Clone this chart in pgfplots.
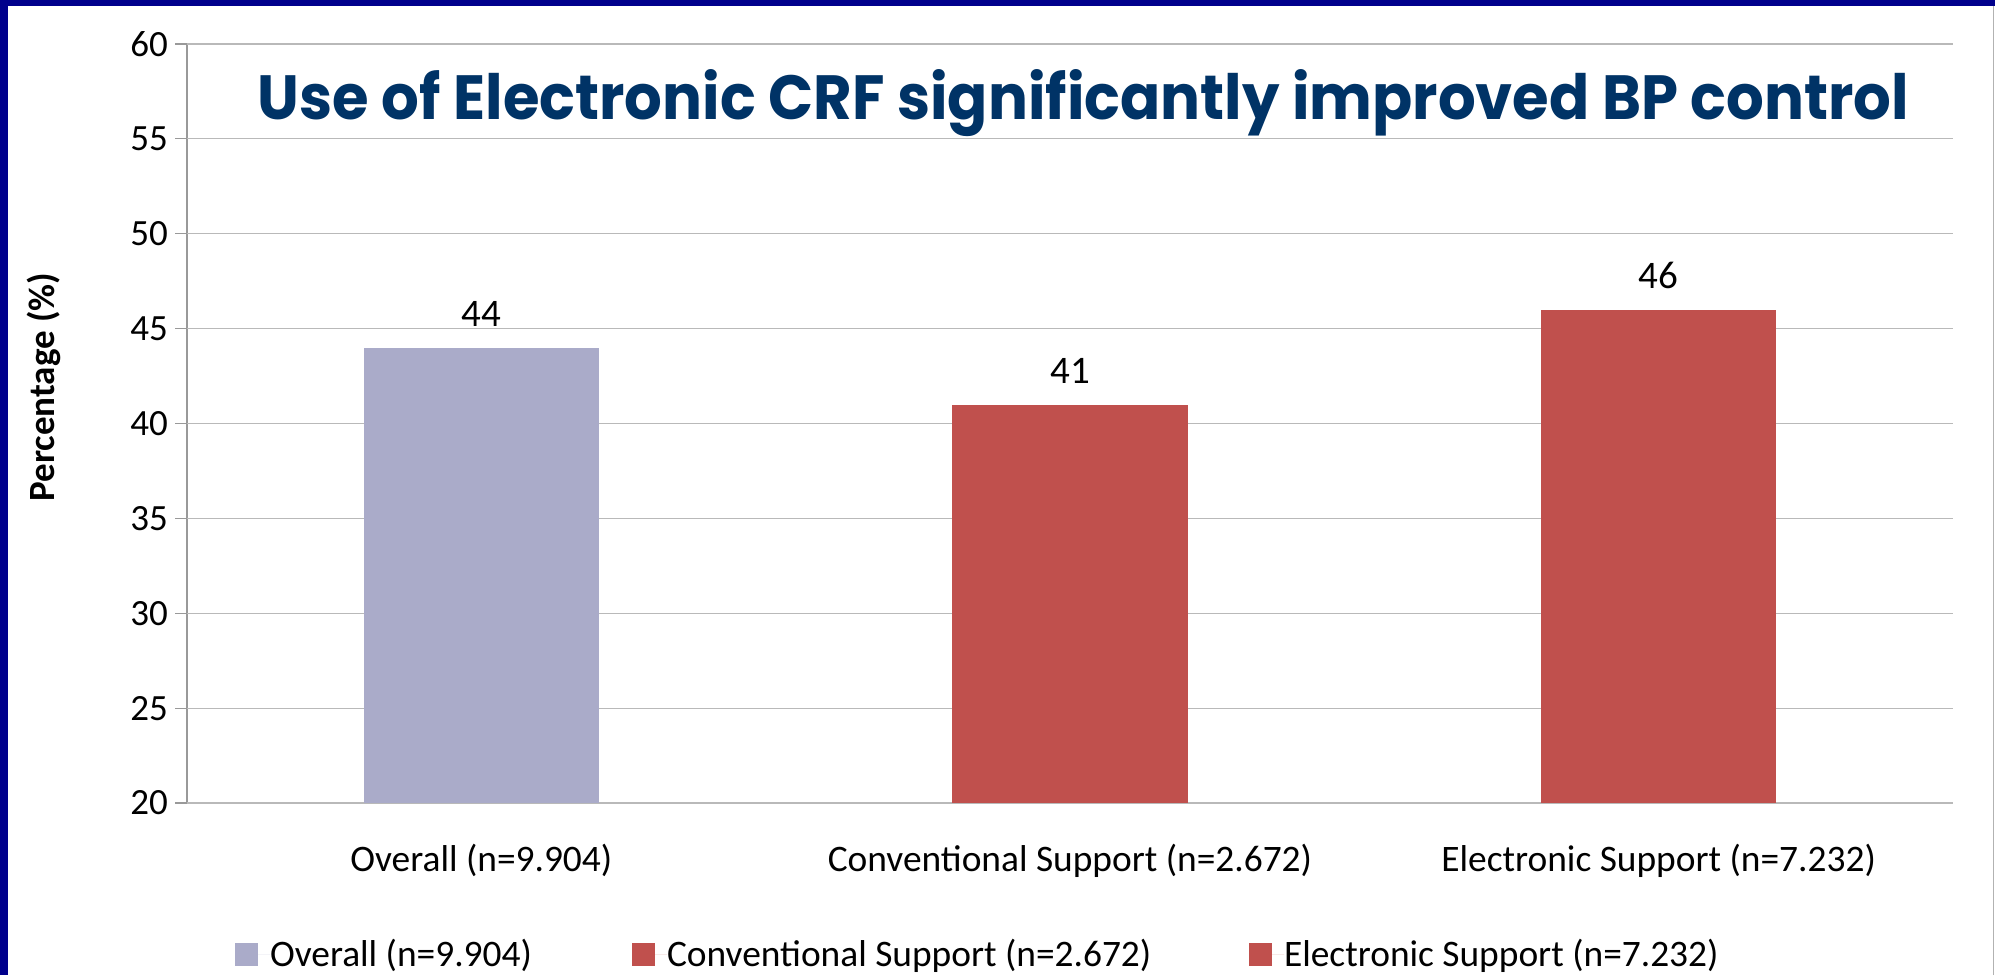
\documentclass[border=0pt]{standalone}
\usepackage{fontspec}
\setmainfont{Carlito}
\newfontfamily\titlefont{Poppins}
\usepackage{graphicx}
\usepackage{pgfplots}
\pgfplotsset{compat=1.18}
\definecolor{navyb}{RGB}{0,0,140}
\definecolor{titleblue}{RGB}{0,51,102}
\definecolor{overallc}{RGB}{170,171,201}
\definecolor{redbar}{RGB}{192,80,77}
\definecolor{gridgray}{RGB}{185,185,185}
\newcommand{\lbl}{\fontsize{18.7}{22}\selectfont}
\newcommand{\dlbl}{\fontsize{19.5}{22}\selectfont}
\newcommand{\ylbl}{\fontsize{18.5}{21}\selectfont}
\begin{document}
\begin{tikzpicture}
\fill[white] (0,0) rectangle (997.5pt,487.5pt);
\fill[navyb] (0,0) rectangle (4pt,487.5pt);
\fill[navyb] (0,484.5pt) rectangle (997.5pt,487.5pt);
\draw[gray!60, line width=0.5pt] (996.5pt,0) -- (996.5pt,484.5pt);
\begin{axis}[
  at={(93.5pt,86pt)}, anchor=south west,
  scale only axis, width=883pt, height=379.5pt,
  ymin=20, ymax=60, ytick={20,25,...,60},
  xmin=-0.5, xmax=2.5,
  xtick={0,1,2},
  xticklabels={Overall (n=9.904), Conventional Support (n=2.672), Electronic Support (n=7.232)},
  xtick style={draw=none},
  extra x ticks={-0.5,0.5,1.5,2.5},
  extra x tick labels={},
  extra x tick style={grid=none, tick style={draw=gray!80, line width=0.6pt}},
  minor xtick={-0.5}, xminorgrids, minor grid style={gray!80, line width=0.6pt},
  minor tick length=0pt,
  ytick style={draw=gray!80, line width=0.6pt},
  xtick pos=bottom, ytick pos=left,
  tick align=outside, major tick length=6pt,
  axis line style={draw=none},
  ymajorgrids, major grid style={gridgray, line width=0.6pt},
  /pgf/number format/assume math mode=true,
  xticklabel style={font=\lbl, text=black, yshift=-11pt},
  yticklabel style={font=\ylbl, text=black},
  ylabel={\textbf{Percentage (\%)}},
  every axis y label/.style={at={(axis description cs:-0.081,0.548)}, rotate=90, anchor=center, font=\ylbl},
  ybar, bar width=0.4, bar shift=0pt,
  nodes near coords,
  every node near coord/.append style={font=\dlbl, text=black, yshift=7pt},
  clip=false,
  legend columns=3,
  legend style={draw=none, fill=none, at={(axis description cs:0.0272,-0.199)}, anchor=west,
    inner sep=0pt, outer sep=0pt, nodes={inner sep=0pt, font=\lbl, anchor=west},
    /tikz/every even column/.append style={column sep=0pt},
    /tikz/every odd column/.append style={column sep=0pt}},
  legend image code/.code={\path (0pt,0pt) -- (17.5pt,0pt); \fill[#1, draw=none] (0pt,-5.75pt) rectangle (11.5pt,5.75pt);},
]
\addplot[fill=overallc, draw=none] coordinates {(0,44)};
\addlegendentry{\makebox[181pt][l]{Overall (n=9.904)}}
\addplot[fill=redbar, draw=none] coordinates {(1,41)};
\addlegendentry{\makebox[291pt][l]{Conventional Support (n=2.672)}}
\addplot[fill=redbar, draw=none] coordinates {(2,46)};
\addlegendentry{Electronic Support (n=7.232)}
\node[anchor=base, text=titleblue] at (axis description cs:0.5077,0.901)
  {\resizebox{825.5pt}{25pt}{\titlefont\bfseries Use of Electronic CRF significantly improved BP control}};
\end{axis}
\end{tikzpicture}
\end{document}
